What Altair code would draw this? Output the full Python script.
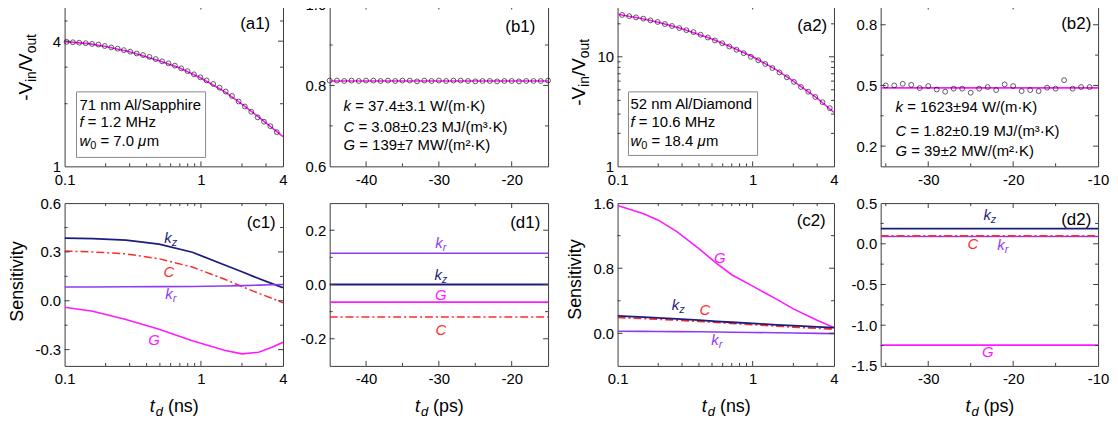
import altair as alt
import pandas as pd

FONT = "Liberation Sans"
FRAME = "#3c3c3c"
NAVY = "#1c1c80"
RED = "#ff2a2a"
PURPLE = "#8f3cf0"
MAG = "#ff1aff"

# ---------------- data ----------------
# (a1) 71 nm Al/Sapphire, ratio vs delay time (ns)
a1_t = [0.1035, 0.115, 0.128, 0.143, 0.159, 0.177, 0.197, 0.220, 0.245, 0.272, 0.303, 0.338,
        0.376, 0.419, 0.466, 0.519, 0.578, 0.644, 0.717, 0.798, 0.889, 0.990, 1.10, 1.23,
        1.37, 1.52, 1.69, 1.89, 2.10, 2.34, 2.61, 2.90, 3.23, 3.60]
a1_v = [3.97, 3.95, 3.93, 3.91, 3.88, 3.85, 3.79, 3.73, 3.68, 3.62, 3.56, 3.49,
        3.43, 3.36, 3.28, 3.20, 3.13, 3.05, 2.96, 2.87, 2.77, 2.68, 2.59, 2.49,
        2.39, 2.29, 2.18, 2.05, 1.94, 1.83, 1.72, 1.64, 1.56, 1.46]
a1_fit_t = [0.1, 0.15, 0.2, 0.3, 0.5, 0.7, 1.0, 1.5, 2.0, 3.0, 4.0]
a1_fit_v = [3.98, 3.89, 3.77, 3.56, 3.21, 2.97, 2.66, 2.28, 1.99, 1.62, 1.39]

# (b1) ratio vs negative delay (ps)
b1_t = [-45, -44, -43, -42, -41, -40, -39, -38, -37, -36, -35, -34, -33, -32, -31, -30,
        -29, -28, -27, -26, -25, -24, -23, -22, -21, -20, -19, -18, -17, -16, -15]
b1_v = [0.812, 0.812, 0.811, 0.812, 0.811, 0.812, 0.812, 0.811, 0.812, 0.811, 0.812, 0.812,
        0.810, 0.812, 0.811, 0.812, 0.811, 0.812, 0.812, 0.811, 0.810, 0.811, 0.811, 0.810,
        0.811, 0.811, 0.810, 0.811, 0.811, 0.811, 0.812]
b1_fit_t = [-45, -15]
b1_fit_v = [0.811, 0.811]

# (a2) 52 nm Al/Diamond
a2_t = [0.108, 0.122, 0.137, 0.155, 0.175, 0.198, 0.224, 0.253, 0.286, 0.323, 0.365, 0.412,
        0.466, 0.526, 0.595, 0.672, 0.759, 0.858, 0.970, 1.10, 1.24, 1.40, 1.58, 1.79,
        2.02, 2.28, 2.58, 2.91, 3.29, 3.72]
a2_v = [24.1, 23.5, 22.9, 22.3, 21.5, 20.8, 19.9, 19.1, 18.3, 17.5, 16.8, 15.9,
        15.0, 14.1, 13.3, 12.4, 11.6, 10.8, 10.0, 9.3, 8.6, 7.9, 7.2, 6.5,
        5.9, 5.3, 4.8, 4.3, 3.85, 3.4]
a2_fit_t = [0.1, 0.15, 0.2, 0.3, 0.5, 0.7, 1.0, 1.5, 2.0, 3.0, 4.0]
a2_fit_v = [24.5, 22.4, 20.7, 18.0, 14.5, 12.2, 10.0, 7.6, 6.0, 4.2, 3.1]

# (b2)
b2_t = [-35, -34, -33, -32, -31, -30, -29, -28, -27, -26, -25, -24, -23, -22, -21, -20,
        -19, -18, -17, -16, -15, -14, -13, -12, -11]
b2_v = [0.500, 0.500, 0.508, 0.503, 0.487, 0.497, 0.480, 0.469, 0.484, 0.484, 0.464, 0.484,
        0.492, 0.477, 0.505, 0.497, 0.472, 0.477, 0.472, 0.489, 0.484, 0.526, 0.484, 0.492,
        0.492]
b2_fit_t = [-35.6, -10]
b2_fit_v = [0.488, 0.488]

# (c1) sensitivities vs delay (ns)
c1_t = [0.1, 0.161, 0.282, 0.493, 0.865, 1.51, 2.0, 2.65, 3.32, 4.0]
c1_kz = [0.385, 0.382, 0.372, 0.348, 0.298, 0.218, 0.178, 0.137, 0.105, 0.080]
c1_C = [0.305, 0.300, 0.288, 0.258, 0.207, 0.131, 0.087, 0.046, 0.015, -0.012]
c1_kr = [0.085, 0.085, 0.086, 0.087, 0.088, 0.091, 0.093, 0.096, 0.098, 0.100]
c1_G = [-0.040, -0.064, -0.115, -0.175, -0.245, -0.306, -0.326, -0.316, -0.286, -0.255]

# (d1) sensitivities vs negative delay (ps)
d1_t = [-45, -15]
d1_kr = [0.115, 0.115]
d1_kz = [0.0, 0.0]
d1_G = [-0.065, -0.065]
d1_C = [-0.12, -0.12]

# (c2)
c2_t = [0.1, 0.156, 0.2, 0.275, 0.4, 0.54, 0.7, 1.0, 1.5, 2.0, 3.0, 4.0]
c2_G = [1.57, 1.47, 1.39, 1.25, 1.04, 0.86, 0.72, 0.58, 0.42, 0.30, 0.16, 0.07]
c2_kz = [0.215, 0.20, 0.19, 0.178, 0.162, 0.148, 0.136, 0.122, 0.105, 0.095, 0.08, 0.07]
c2_C = [0.195, 0.182, 0.173, 0.162, 0.148, 0.135, 0.123, 0.108, 0.09, 0.078, 0.062, 0.052]
c2_kr = [0.025, 0.024, 0.023, 0.021, 0.019, 0.017, 0.014, 0.011, 0.007, 0.004, 0.0, -0.004]

# (d2)
d2_t = [-35.6, -10]
d2_kz = [0.185, 0.185]
d2_C = [0.10, 0.10]
d2_kr = [0.09, 0.09]
d2_G = [-1.245, -1.245]

# axis labels / ticks
LOGX_LABELS = [0.1, 1, 4]
LOGX_MINOR = [0.2, 0.3, 0.4, 0.5, 0.6, 0.7, 0.8, 0.9, 2, 3]
LOGX_MAJOR = [1]

# ---------------- helpers ----------------
W = {' ': .278, '.': .278, '=': .584, '±': .584, '/': .278, '(': .333, ')': .333, '·': .333,
     '-': .333, 'W': .944, 'M': .833, 'J': .5, 'K': .667, 'm': .833, 'k': .5, 'C': .722,
     'G': .778, 'H': .722, 'z': .5, 'n': .556, 'A': .667, 'l': .222, 'S': .667, 'a': .556,
     'p': .556, 'h': .556, 'i': .222, 'r': .333, 'e': .556, 'D': .722, 'o': .556, 'd': .556,
     'f': .278, 'w': .722, 'μ': .576, 'V': .667, 'u': .556, 't': .278, 's': .5, '³': .333,
     '²': .333}


def tw(s, size):
    return sum(W.get(c, .556) for c in s) * size


ONE = pd.DataFrame({"a": [0]})


def txt(s, x, y, size=15, italic=False, color="black", align="left", baseline="middle", angle=None):
    # svg drops leading blanks, so turn them into an x offset
    if align == "left" and angle is None:
        stripped = s.lstrip(" ")
        x += (len(s) - len(stripped)) * W[" "] * size
        s = stripped
    kw = dict(text=s, fontSize=size, font=FONT, color=color, align=align, baseline=baseline)
    if italic:
        kw["fontStyle"] = "italic"
    if angle is not None:
        kw["angle"] = angle
    return alt.Chart(ONE).mark_text(**kw).encode(x=alt.value(x), y=alt.value(y))


def rich(pieces, x, y):
    """pieces: (text, size, italic, dy) laid left to right, baseline alphabetic at y"""
    out = []
    cx = x
    for s, size, it, dy in pieces:
        out.append(txt(s, cx, y + dy, size=size, italic=it, baseline="alphabetic"))
        cx += tw(s, size)
    return out


def curve_label(main, sub, cx, cy, color):
    total = tw(main, 15) + (tw(sub, 11) if sub else 0)
    x0 = cx - total / 2
    out = [txt(main, x0, cy + 5, size=15, italic=True, color=color, baseline="alphabetic")]
    if sub:
        out.append(txt(sub, x0 + tw(main, 15), cy + 8, size=11, italic=True, color=color,
                       baseline="alphabetic"))
    return out


def ytitle(pieces, xb, ystart):
    out = []
    cy = ystart
    for s, size, sub in pieces:
        out.append(txt(s, xb + (4 if sub else 0), cy, size=size, baseline="alphabetic",
                       angle=270))
        cy -= tw(s, size)
    return out


def xtitle(unit, w, h):
    total = tw("t", 18) + tw("d", 13) + tw(" (" + unit + ")", 18)
    x0 = w / 2 - total / 2
    y = h + 46
    return [
        txt("t", x0, y, size=18, italic=True, baseline="alphabetic"),
        txt("d", x0 + tw("t", 18) + 1, y + 4, size=13, italic=True, baseline="alphabetic"),
        txt(" (" + unit + ")", x0 + tw("t", 18) + tw("d", 13) + 1, y, size=18, baseline="alphabetic"),
    ]


def anchor(left, right, w):
    """invisible white rule above the plot that fixes the panel's layout extents"""
    return alt.Chart(ONE).mark_rule(color="white", strokeWidth=1).encode(
        x=alt.value(-left), x2=alt.value(w + right), y=alt.value(-12))


def axis(values, fmt, pad):
    return alt.Axis(values=values, format=fmt, ticks=False, domain=False, grid=False,
                    labelFont=FONT, labelFontSize=15, labelColor="black", labelPadding=pad,
                    title=None, labelFlush=False, labelOverlap=False,
                    labelExpr="replace(datum.label, '\u2212', '-')")


class Panel:
    def __init__(self, w, h, xs, ys, xax, yax):
        self.w, self.h, self.xs, self.ys, self.xax, self.yax = w, h, xs, ys, xax, yax

    def X(self, f):
        return alt.X(f, scale=self.xs, axis=self.xax)

    def Y(self, f):
        return alt.Y(f, scale=self.ys, axis=self.yax)

    def ticks(self, xmaj, xmin, ymaj, ymin):
        w, h = self.w, self.h
        out = []
        for vals, L in ((xmaj, 5), (xmin, 3)):
            if vals:
                base = alt.Chart(pd.DataFrame({"v": vals})).mark_rule(color=FRAME, strokeWidth=1)
                out.append(base.encode(x=self.X("v:Q"), y=alt.value(h), y2=alt.value(h - L)))
                out.append(base.encode(x=self.X("v:Q"), y=alt.value(0), y2=alt.value(L)))
        for vals, L in ((ymaj, 5), (ymin, 3)):
            if vals:
                base = alt.Chart(pd.DataFrame({"v": vals})).mark_rule(color=FRAME, strokeWidth=1)
                out.append(base.encode(y=self.Y("v:Q"), x=alt.value(0), x2=alt.value(L)))
                out.append(base.encode(y=self.Y("v:Q"), x=alt.value(w), x2=alt.value(w - L)))
        return out

    def line(self, t, v, color, width=1.6, dash=None):
        kw = dict(color=color, strokeWidth=width, clip=True)
        if dash:
            kw["strokeDash"] = dash
        d = pd.DataFrame({"t": t, "v": v})
        return alt.Chart(d).mark_line(**kw).encode(x=self.X("t:Q"), y=self.Y("v:Q"))

    def points(self, t, v):
        d = pd.DataFrame({"t": t, "v": v})
        return alt.Chart(d).mark_point(shape="circle", filled=False, color="black", size=24,
                                       strokeWidth=0.9).encode(x=self.X("t:Q"), y=self.Y("v:Q"))


DASHDOT = [8, 3, 2, 3]
TOP_H = 163
BOT_H = 164
LOGSC = dict(type="log", domain=[0.1, 4], nice=False)
YT = [("-V", 19, False), ("in", 14, True), ("/V", 19, False), ("out", 14, True)]

# ---------------- (a1) ----------------
p = Panel(220, TOP_H, alt.Scale(**LOGSC), alt.Scale(type="log", domain=[1, 6], nice=False),
          axis(LOGX_LABELS, "~g", 6), axis([1, 4], "~g", 4))
a1 = alt.layer(
    p.line(a1_fit_t, a1_fit_v, MAG),
    p.points(a1_t, a1_v),
    *p.ticks(LOGX_MAJOR, LOGX_MINOR, [4], [2, 3, 5]),
    alt.Chart(ONE).mark_rect(fill="white", stroke="#8a8a8a", strokeWidth=1).encode(
        x=alt.value(12), x2=alt.value(142), y=alt.value(88), y2=alt.value(154)),
    *rich([("71 nm Al/Sapphire", 15, False, 0)], 15, 106),
    *rich([("f", 15, True, 0), (" = 1.2 MHz", 15, False, 0)], 15, 123),
    *rich([("w", 15, True, 0), ("0", 11, False, 4), (" = 7.0 ", 15, False, 0), ("μ", 15, True, 0), ("m", 15, False, 0)], 15, 142),
    txt("(a1)", 192, 20, size=17, align="center"),
    *ytitle(YT, -33, 97),
    anchor(58, 6, p.w),
).properties(width=p.w, height=p.h)

# ---------------- (b1) ----------------
p = Panel(220, TOP_H, alt.Scale(domain=[-45, -15], nice=False), alt.Scale(domain=[0.6, 1.0], nice=False),
          axis([-40, -30, -20], "d", 6), axis([0.6, 0.8, 1.0], ".1f", 4))
b1 = alt.layer(
    p.line(b1_fit_t, b1_fit_v, MAG),
    p.points(b1_t, b1_v),
    *p.ticks([-40, -30, -20], [-35, -25], [0.8], [0.7, 0.9]),
    *rich([("k", 15, True, 0), (" = 37.4±3.1 W/(m·K)", 15, False, 0)], 14, 107),
    *rich([("C", 15, True, 0), (" = 3.08±0.23 MJ/(m³·K)", 15, False, 0)], 14, 128),
    *rich([("G", 15, True, 0), (" = 139±7 MW/(m²·K)", 15, False, 0)], 14, 147),
    txt("(b1)", 192, 23, size=17, align="center"),
    anchor(32, 6, p.w),
).properties(width=p.w, height=p.h)

# ---------------- (a2) ----------------
p = Panel(218, TOP_H, alt.Scale(**LOGSC), alt.Scale(type="log", domain=[1, 30], nice=False),
          axis(LOGX_LABELS, "~g", 6), axis([1, 10], "~g", 4))
a2 = alt.layer(
    p.line(a2_fit_t, a2_fit_v, MAG),
    p.points(a2_t, a2_v),
    *p.ticks(LOGX_MAJOR, LOGX_MINOR, [10], [2, 3, 4, 5, 6, 7, 8, 9, 20]),
    alt.Chart(ONE).mark_rect(fill="white", stroke="#8a8a8a", strokeWidth=1).encode(
        x=alt.value(11), x2=alt.value(141), y=alt.value(88), y2=alt.value(152)),
    *rich([("52 nm Al/Diamond", 15, False, 0)], 13, 105),
    *rich([("f", 15, True, 0), (" = 10.6 MHz", 15, False, 0)], 13, 123),
    *rich([("w", 15, True, 0), ("0", 11, False, 4), (" = 18.4 ", 15, False, 0), ("μ", 15, True, 0), ("m", 15, False, 0)], 13, 142),
    txt("(a2)", 196, 22, size=17, align="center"),
    *ytitle(YT, -33, 102),
    anchor(54, 6, p.w),
).properties(width=p.w, height=p.h)

# ---------------- (b2) ----------------
p = Panel(219, TOP_H, alt.Scale(domain=[-35.6, -10], nice=False), alt.Scale(domain=[0.1, 0.9], nice=False),
          axis([-30, -20, -10], "d", 6), axis([0.2, 0.5, 0.8], ".1f", 4))
b2 = alt.layer(
    p.line(b2_fit_t, b2_fit_v, MAG),
    p.points(b2_t, b2_v),
    *p.ticks([-30, -20], [-35, -25, -15], [0.2, 0.5, 0.8], [0.35, 0.65]),
    *rich([("k", 15, True, 0), (" = 1623±94 W/(m·K)", 15, False, 0)], 15, 108),
    *rich([("C", 15, True, 0), (" = 1.82±0.19 MJ/(m³·K)", 15, False, 0)], 15, 132),
    *rich([("G", 15, True, 0), (" = 39±2 MW/(m²·K)", 15, False, 0)], 15, 153),
    txt("(b2)", 197, 20, size=17, align="center"),
    anchor(32, 6, p.w),
).properties(width=p.w, height=p.h)

# ---------------- (c1) ----------------
p = Panel(220, BOT_H, alt.Scale(**LOGSC), alt.Scale(domain=[-0.4, 0.6], nice=False),
          axis(LOGX_LABELS, "~g", 6), axis([-0.3, 0.0, 0.3, 0.6], ".1f", 4))
c1 = alt.layer(
    p.line(c1_t, c1_kz, NAVY, 1.8),
    p.line(c1_t, c1_C, RED, 1.5, dash=DASHDOT),
    p.line(c1_t, c1_kr, PURPLE),
    p.line(c1_t, c1_G, MAG),
    *p.ticks(LOGX_MAJOR, LOGX_MINOR, [-0.3, 0.0, 0.3], [-0.15, 0.15, 0.45]),
    *curve_label("k", "z", 107, 35, NAVY),
    *curve_label("C", None, 105, 69, RED),
    *curve_label("k", "r", 107, 92, PURPLE),
    *curve_label("G", None, 90, 138, MAG),
    txt("(c1)", 198, 20, size=17, align="center"),
    txt("Sensitivity", -47, 79, size=18, align="center", angle=270),
    *xtitle("ns", p.w, p.h),
).properties(width=p.w, height=p.h)

# ---------------- (d1) ----------------
p = Panel(220, BOT_H, alt.Scale(domain=[-45, -15], nice=False), alt.Scale(domain=[-0.3, 0.3], nice=False),
          axis([-40, -30, -20], "d", 6), axis([-0.2, 0.0, 0.2], ".1f", 4))
d1 = alt.layer(
    p.line(d1_t, d1_kr, PURPLE),
    p.line(d1_t, d1_kz, NAVY, 1.8),
    p.line(d1_t, d1_G, MAG),
    p.line(d1_t, d1_C, RED, 1.5, dash=DASHDOT),
    *p.ticks([-40, -30, -20], [-35, -25], [-0.2, 0.0, 0.2], [-0.1, 0.1]),
    *curve_label("k", "r", 112, 40, PURPLE),
    *curve_label("k", "z", 112, 72, NAVY),
    *curve_label("G", None, 112, 93, MAG),
    *curve_label("C", None, 112, 128, RED),
    txt("(d1)", 197, 20, size=17, align="center"),
    *xtitle("ps", p.w, p.h),
).properties(width=p.w, height=p.h)

# ---------------- (c2) ----------------
p = Panel(218, BOT_H, alt.Scale(**LOGSC), alt.Scale(domain=[-0.4, 1.6], nice=False),
          axis(LOGX_LABELS, "~g", 6), axis([0.0, 0.8, 1.6], ".1f", 4))
c2 = alt.layer(
    p.line(c2_t, c2_G, MAG),
    p.line(c2_t, c2_kr, PURPLE),
    p.line(c2_t, c2_C, RED, 1.8, dash=DASHDOT),
    p.line(c2_t, c2_kz, NAVY, 1.8),
    *p.ticks(LOGX_MAJOR, LOGX_MINOR, [0.0, 0.8], [0.4, 1.2]),
    *curve_label("G", None, 103, 55, MAG),
    *curve_label("k", "z", 61, 103, NAVY),
    *curve_label("C", None, 88, 108, RED),
    *curve_label("k", "r", 100, 138, PURPLE),
    txt("(c2)", 195, 18, size=17, align="center"),
    txt("Sensitivity", -42, 77, size=18, align="center", angle=270),
    *xtitle("ns", p.w, p.h),
).properties(width=p.w, height=p.h)

# ---------------- (d2) ----------------
p = Panel(219, BOT_H, alt.Scale(domain=[-35.6, -10], nice=False), alt.Scale(domain=[-1.5, 0.5], nice=False),
          axis([-30, -20, -10], "d", 6), axis([-1.5, -1.0, -0.5, 0.0, 0.5], ".1f", 4))
d2 = alt.layer(
    p.line(d2_t, d2_kz, NAVY, 1.8),
    p.line(d2_t, d2_kr, PURPLE),
    p.line(d2_t, d2_C, RED, 1.5, dash=DASHDOT),
    p.line(d2_t, d2_G, MAG),
    *p.ticks([-30, -20], [-35, -25, -15], [-1.0, -0.5, 0.0], [-1.25, -0.75, -0.25, 0.25]),
    *curve_label("k", "z", 110, 12, NAVY),
    *curve_label("C", None, 93, 41, RED),
    *curve_label("k", "r", 123, 42, PURPLE),
    *curve_label("G", None, 108, 150, MAG),
    txt("(d2)", 197, 17, size=17, align="center"),
    *xtitle("ps", p.w, p.h),
).properties(width=p.w, height=p.h)

col1 = alt.vconcat(a1, c1, spacing=37, bounds="flush")
col2 = alt.vconcat(b1, d1, spacing=37, bounds="flush")
col3 = alt.vconcat(a2, c2, spacing=37, bounds="flush")
col4 = alt.vconcat(b2, d2, spacing=37, bounds="flush")
left = alt.hconcat(col1, col2, spacing=7)
right = alt.hconcat(col3, col4, spacing=7)

chart = alt.hconcat(left, right, spacing=8).properties(
    padding={"left": -2, "top": -18, "right": 0, "bottom": 0}
).configure_view(stroke=FRAME, strokeWidth=1)

chart.save("out.html", embed_options={"renderer": "svg", "actions": False})
